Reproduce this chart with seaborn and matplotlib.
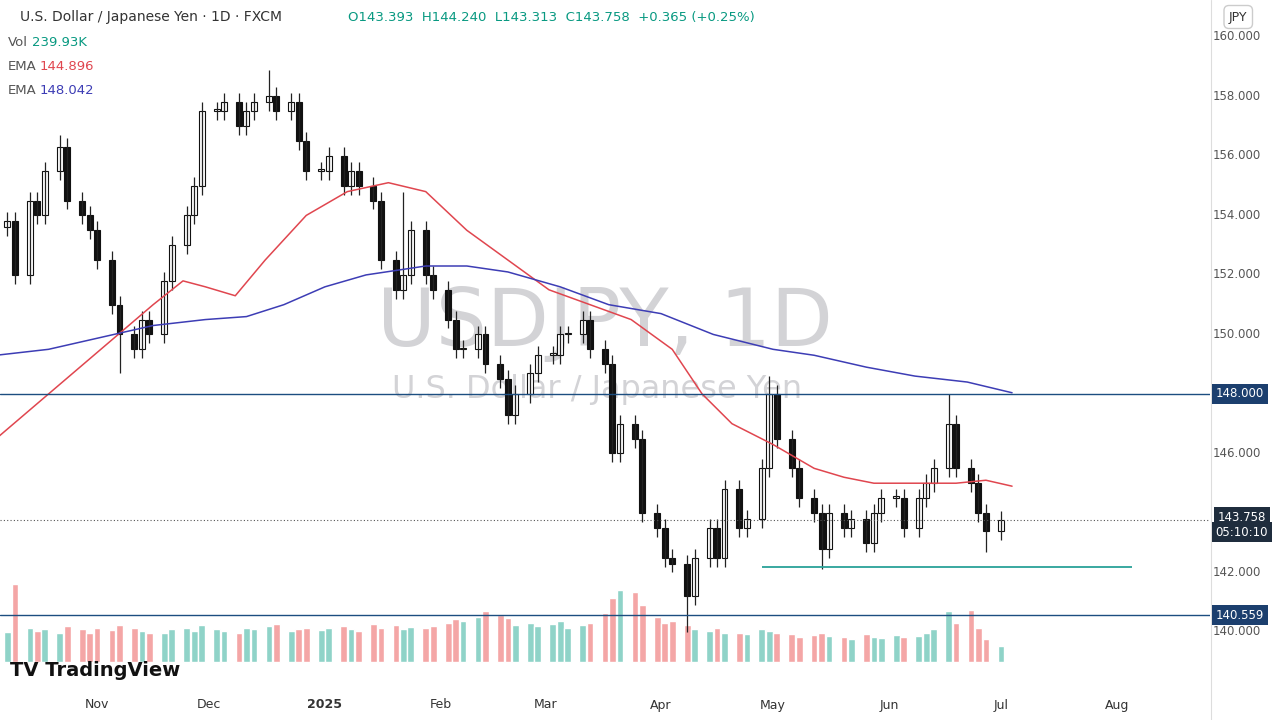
import matplotlib
matplotlib.use("Agg")
import matplotlib.pyplot as plt
import matplotlib.dates as mdates
import seaborn as sns
import pandas as pd
import numpy as np

closes = [149.3,149.4,149.5,150.0,150.5,151.5,152.5,153.5,153.5,153.6,153.8,152.0,154.5,154.0,155.5,156.3,
          154.5,154.0,153.5,152.5,151.0,150.0,149.5,150.5,150.0,151.8,153.0,154.0,155.0,157.5,157.5,157.8,
          157.0,157.5,157.8,158.0,157.5,157.8,156.5,155.5,155.5,156.0,155.0,155.5,155.0,154.5,152.5,151.5,
          152.0,153.5,152.0,151.5,150.5,149.5,149.5,150.0,149.0,148.5,147.3,148.0,148.7,149.3,149.3,150.0,
          150.0,150.5,149.5,149.0,146.0,147.0,146.5,144.0,143.5,142.5,142.3,141.2,142.5,143.5,142.5,144.8,
          143.5,143.8,145.5,148.0,146.5,145.5,144.5,144.0,142.8,144.0,143.5,143.8,143.0,144.0,144.5,144.5,
          143.5,144.5,145.0,145.5,147.0,145.5,145.0,144.0,143.4,143.758]
extra_high = {35: 158.9, 83: 148.6, 100: 148.0, 48: 154.8, 15: 156.7}
extra_low = {75: 140.0, 21: 148.7, 88: 142.1, 104: 142.7}
volumes = [30,28,32,35,30,33,38,36,40,34,37,95,42,38,40,36,44,40,35,42,39,45,41,38,36,35,40,42,38,45,
           40,38,36,42,40,44,46,38,40,42,39,41,44,40,38,46,42,45,40,43,41,44,48,52,50,55,62,58,54,45,
           48,44,46,50,42,45,48,60,78,88,85,70,55,48,50,45,40,38,42,35,36,34,40,38,36,34,30,33,35,32,
           30,28,34,31,29,33,30,32,35,40,62,48,64,42,28,20]
ema_fast_x = ["2024-10-05","2024-10-19","2024-11-02","2024-11-16","2024-11-24","2024-11-30","2024-12-08","2024-12-16",
              "2024-12-27","2025-01-07","2025-01-18","2025-01-28","2025-02-08","2025-02-19","2025-03-02","2025-03-13",
              "2025-03-24","2025-04-04","2025-04-12","2025-04-20","2025-05-01","2025-05-12","2025-05-20","2025-05-28",
              "2025-06-08","2025-06-19","2025-06-27","2025-07-04"]
ema_fast = [146.5,148.0,149.5,151.0,151.8,151.6,151.3,152.5,154.0,154.8,155.1,154.8,153.5,152.5,151.5,151.0,
            150.5,149.5,148.0,147.0,146.3,145.5,145.2,145.0,145.0,145.0,145.1,144.9]
ema_slow_x = ["2024-10-05","2024-10-19","2024-11-02","2024-11-16","2024-11-30","2024-12-11","2024-12-21","2025-01-01",
              "2025-01-12","2025-01-28","2025-02-08","2025-02-19","2025-03-05","2025-03-18","2025-04-01","2025-04-15",
              "2025-05-01","2025-05-12","2025-05-26","2025-06-08","2025-06-22","2025-07-04"]
ema_slow = [149.3,149.5,149.9,150.3,150.5,150.6,151.0,151.6,152.0,152.3,152.3,152.1,151.6,151.0,150.7,150.0,
            149.5,149.3,148.9,148.6,148.4,148.04]
month_labels = ["Nov","Dec","2025","Feb","Mar","Apr","May","Jun","Jul","Aug"]
month_dates = ["2024-11-01","2024-12-01","2025-01-01","2025-02-01","2025-03-01","2025-04-01","2025-05-01","2025-06-01","2025-07-01","2025-08-01"]
price_ticks = [140,142,146,150,152,154,156,158,160]

sns.set_theme(style="white")
n = len(closes)
dates = pd.bdate_range(end="2025-07-01", periods=n, freq="2B")
opens = [closes[0]-0.3] + closes[:-1]
highs = [max(o, c) + 0.3 for o, c in zip(opens, closes)]
lows = [min(o, c) - 0.3 for o, c in zip(opens, closes)]
for k, v in extra_high.items(): highs[k] = v
for k, v in extra_low.items(): lows[k] = v
df = pd.DataFrame(dict(date=dates, o=opens, h=highs, l=lows, c=closes, v=volumes[:n]))
df["up"] = df.c >= df.o
xn = mdates.date2num(df.date)

fig = plt.figure(figsize=(12.81, 7.2), dpi=100)
ax = fig.add_axes([0, 30/720, 1210/1281, 690/720])
vax = ax.twinx()
vax.set_position(ax.get_position())
vax.set_zorder(0); ax.set_zorder(1); ax.patch.set_visible(False)
vcol = np.where(df.up, "#8fd3c8", "#f4a6a6")
vax.bar(xn, df.v, width=1.8, color=vcol)
vax.set_ylim(-34, 807); vax.axis("off")

ax.vlines(xn, df.l, df.h, color="#222", lw=0.9)
ax.bar(xn, (df.c-df.o).abs().clip(lower=0.06), bottom=np.minimum(df.o, df.c), width=1.6,
       color=np.where(df.up, "white", "#111"), edgecolor="#111", lw=0.8)

fe = pd.DataFrame(dict(d=pd.to_datetime(ema_fast_x), v=ema_fast))
se = pd.DataFrame(dict(d=pd.to_datetime(ema_slow_x), v=ema_slow))
sns.lineplot(data=fe, x="d", y="v", ax=ax, color="#e0464f", lw=1.1)
sns.lineplot(data=se, x="d", y="v", ax=ax, color="#3d3db5", lw=1.1)

x0 = mdates.date2num(pd.Timestamp("2024-10-06")); x1 = mdates.date2num(pd.Timestamp("2025-08-26"))
ax.set_xlim(x0, x1); ax.set_ylim(138.05, 161.24)
ax.axhline(148.0, color="#1c4e80", lw=1)
ax.axhline(140.559, color="#1c4e80", lw=1)
ax.axhline(143.758, color="#555", lw=0.8, ls=(0, (1, 2)))
ax.hlines(142.2, mdates.date2num(pd.Timestamp("2025-04-28")), mdates.date2num(pd.Timestamp("2025-08-05")), color="#2aa198", lw=1.3)

for s in ax.spines.values(): s.set_visible(False)
ax.set_xlabel(""); ax.set_ylabel("")
ax.set_xticks([]); ax.set_yticks([])

ax.text(605/1210, 0.53, "USDJPY, 1D", transform=ax.transAxes, ha="center", va="center", fontsize=58, color="#c8c8cc", alpha=0.8, zorder=0)
ax.text(597/1210, 0.435, "U.S. Dollar / Japanese Yen", transform=ax.transAxes, ha="center", va="center", fontsize=23, color="#c8c8cc", alpha=0.8, zorder=0)

def fy(p): return (30 + (p - 138.05) / (161.24 - 138.05) * 690) / 720
for p in price_ticks:
    fig.text(1237/1281, fy(p), f"{p:.3f}", ha="center", va="center", fontsize=8.5, color="#555")
def box(p, t, fc):
    fig.text(1240/1281, fy(p), t, ha="center", va="center", fontsize=8.5, color="white",
             bbox=dict(boxstyle="square,pad=0.3", fc=fc, ec="none"))
box(148.0, "148.000", "#1c3f6e"); box(140.559, "140.559", "#1c3f6e")
fig.text(1242/1281, fy(143.758)+0.004, "143.758", ha="center", va="center", fontsize=8.5, color="white",
         bbox=dict(boxstyle="square,pad=0.3", fc="#1f2d3d", ec="none"))
fig.text(1242/1281, fy(143.758)-0.017, "05:10:10", ha="center", va="center", fontsize=8.5, color="white",
         bbox=dict(boxstyle="square,pad=0.3", fc="#1f2d3d", ec="none"))

for lab, d in zip(month_labels, month_dates):
    xp = (mdates.date2num(pd.Timestamp(d)) - x0) / (x1 - x0) * 1210 / 1281
    fig.text(xp, 15/720, lab, ha="center", va="center", fontsize=9, color="#333",
             fontweight="bold" if lab == "2025" else "normal")

fig.text(20/1281, 1-17/720, "U.S. Dollar / Japanese Yen · 1D · FXCM", fontsize=10, color="#333", va="center")
fig.text(348/1281, 1-17/720, "O143.393  H144.240  L143.313  C143.758  +0.365 (+0.25%)", fontsize=9.5, color="#089981", va="center")
fig.text(8/1281, 1-43/720, "Vol", fontsize=9.5, color="#555", va="center")
fig.text(32/1281, 1-43/720, "239.93K", fontsize=9.5, color="#089981", va="center")
fig.text(8/1281, 1-67/720, "EMA", fontsize=9.5, color="#555", va="center")
fig.text(40/1281, 1-67/720, "144.896", fontsize=9.5, color="#e0464f", va="center")
fig.text(8/1281, 1-90/720, "EMA", fontsize=9.5, color="#555", va="center")
fig.text(40/1281, 1-90/720, "148.042", fontsize=9.5, color="#3d3db5", va="center")
fig.text(1229/1281, 1-17/720, "JPY", fontsize=9, color="#333", va="center",
         bbox=dict(boxstyle="round,pad=0.4", fc="white", ec="#ccc"))
fig.text(10/1281, 1-671/720, "TV TradingView", fontsize=14, fontweight="bold", color="#111", va="center")
fig.add_artist(plt.Line2D([1211/1281]*2, [0, 1], color="#ddd", lw=0.8))
fig.savefig("out.png", dpi=100)
